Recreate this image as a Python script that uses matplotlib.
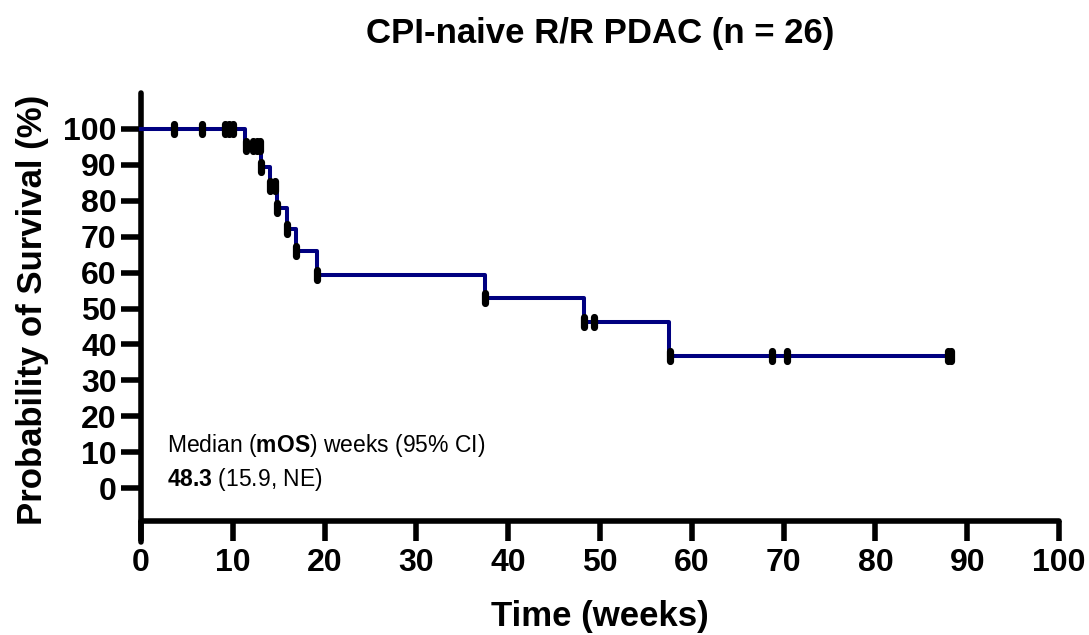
import numpy as np
import matplotlib.pyplot as plt
from matplotlib.markers import MarkerStyle

plt.rcParams['font.family'] = 'Liberation Sans'
plt.rcParams['mathtext.fontset'] = 'custom'
plt.rcParams['mathtext.rm'] = 'Liberation Sans'
plt.rcParams['mathtext.bf'] = 'Liberation Sans:bold'

# Kaplan-Meier steps
drop_weeks = [0, 11.3, 13.1, 14.0, 14.85, 15.9, 16.9, 19.2, 37.5, 48.3, 57.5]
survival_pct = [100, 95.2, 89.5, 84.1, 78.1, 72.1, 66.0, 59.4, 52.8, 46.2, 36.9]
last_week = 88.2

# tick marks drawn on the curve
mark_weeks = [3.6, 6.6, 9.2, 9.6, 10.0, 11.4, 12.2, 12.6, 13.0, 13.1, 14.0, 14.6,
              14.85, 15.9, 16.9, 19.2, 37.5, 48.3, 49.3, 57.6, 68.7, 70.4, 87.9, 88.2]

x_ticks = list(range(0, 101, 10))
y_ticks = list(range(0, 101, 10))

fig = plt.figure(figsize=(10.89, 6.35), dpi=100)
ax = fig.add_axes([141 / 1089, 1 - 542 / 635, (1059 - 141) / 1089, (542 - 93) / 635])

xs = drop_weeks + [last_week]
ys = survival_pct + [survival_pct[-1]]
ax.step(xs, ys, where='post', color='#000080', lw=2.9, clip_on=False, zorder=3)

idx = np.searchsorted(drop_weeks, mark_weeks, side='right') - 1
mark_y = np.array(survival_pct)[idx]
ax.plot(mark_weeks, mark_y, ls='none', marker=MarkerStyle('|', capstyle='round'),
        ms=7, mew=5.2, color='black', clip_on=False, zorder=4)

ax.set_xlim(0, 100)
ax.set_ylim(-15, 110)
ax.set_xticks(x_ticks)
ax.set_yticks(y_ticks)

for s in ['top', 'right']:
    ax.spines[s].set_visible(False)
ax.spines['bottom'].set_position(('data', -9.1))
ax.spines['bottom'].set_bounds(0, 100)
for s in ['left', 'bottom']:
    ax.spines[s].set_linewidth(4)
    ax.spines[s].set_capstyle('round')

ax.tick_params(axis='both', length=14.5, width=4, labelsize=23)
ax.tick_params(axis='x', pad=5)
ax.tick_params(axis='y', pad=3)
for lab in ax.get_xticklabels() + ax.get_yticklabels():
    lab.set_fontweight('bold')
for t in ax.xaxis.get_ticklines() + ax.yaxis.get_ticklines():
    t.set_solid_capstyle('round')

fig.text(600 / 1089, 1 - 43 / 635, 'CPI-naive R/R PDAC (n = 26)', ha='center',
         va='baseline', fontsize=25, fontweight='bold')
fig.text(600 / 1089, 1 - 626 / 635, 'Time (weeks)', ha='center', va='baseline',
         fontsize=25, fontweight='bold')
fig.text(33 / 1089, 1 - 310 / 635, 'Probability of Survival (%)', ha='center',
         va='center', rotation=90, fontsize=25, fontweight='bold')

ax.text(2.8, 10, r'Median ($\mathbf{mOS}$) weeks (95% CI)', fontsize=16.5, va='baseline')
ax.text(2.8, 0.5, r'$\mathbf{48.3}$ (15.9, NE)', fontsize=16.5, va='baseline')

fig.savefig('out.png', dpi=100)
